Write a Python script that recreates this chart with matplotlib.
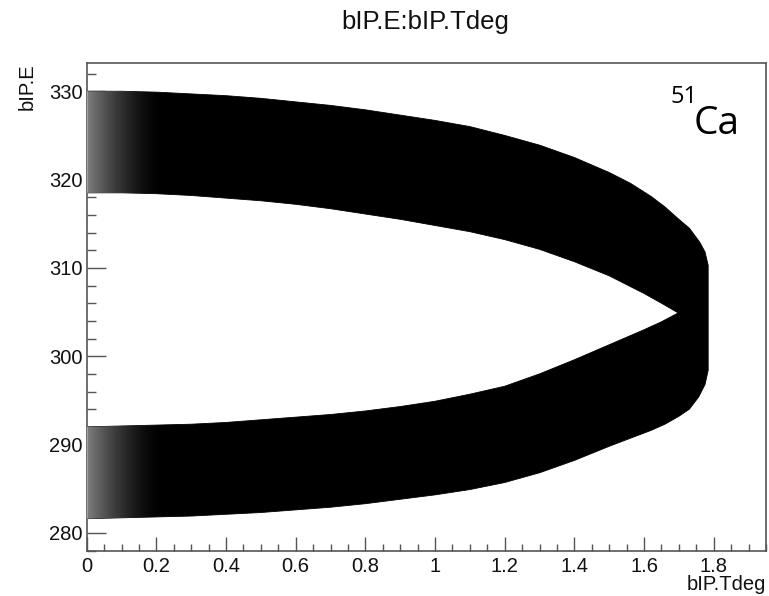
import numpy as np
import matplotlib
matplotlib.use("Agg")
import matplotlib.pyplot as plt
from matplotlib.patches import Polygon
from matplotlib.ticker import MultipleLocator, FuncFormatter

# edges of the black band (x = bIP.Tdeg, y = bIP.E)
upper_outer_x = [0.0, 0.1, 0.2, 0.3, 0.4, 0.5, 0.6, 0.7, 0.8, 0.9, 1.0, 1.1, 1.2,
                 1.3, 1.4, 1.5, 1.56, 1.62, 1.66, 1.70, 1.73, 1.76, 1.775, 1.784]
upper_outer_y = [330.0, 330.0, 329.9, 329.7, 329.5, 329.2, 328.8, 328.4, 327.9, 327.3,
                 326.7, 326.0, 325.0, 323.9, 322.5, 320.8, 319.6, 318.1, 316.9, 315.5,
                 314.5, 312.9, 311.8, 310.3]

lower_outer_x = [0.0, 0.1, 0.2, 0.3, 0.4, 0.5, 0.6, 0.7, 0.8, 0.9, 1.0, 1.1, 1.2,
                 1.3, 1.4, 1.5, 1.56, 1.62, 1.66, 1.70, 1.73, 1.757, 1.775, 1.784]
lower_outer_y = [281.6, 281.7, 281.8, 281.9, 282.1, 282.3, 282.6, 282.9, 283.3, 283.8,
                 284.3, 284.9, 285.7, 286.8, 288.2, 289.8, 290.7, 291.6, 292.3, 293.2,
                 294.0, 295.4, 296.8, 298.4]

lower_inner_x = [0.0, 0.1, 0.2, 0.3, 0.4, 0.5, 0.6, 0.7, 0.8, 0.9, 1.0, 1.1, 1.2,
                 1.3, 1.4, 1.5, 1.6, 1.65, 1.698]
lower_inner_y = [292.0, 292.1, 292.2, 292.3, 292.5, 292.8, 293.1, 293.4, 293.8, 294.3,
                 294.9, 295.7, 296.6, 298.0, 299.6, 301.3, 303.0, 303.9, 304.9]

upper_inner_x = [0.0, 0.1, 0.2, 0.3, 0.4, 0.5, 0.6, 0.7, 0.8, 0.9, 1.0, 1.1, 1.2,
                 1.3, 1.4, 1.5, 1.6, 1.65, 1.698]
upper_inner_y = [318.5, 318.5, 318.4, 318.2, 317.9, 317.6, 317.2, 316.7, 316.1, 315.5,
                 314.8, 314.1, 313.2, 312.1, 310.7, 309.1, 307.1, 306.0, 304.9]

x_ticks = [0, 0.2, 0.4, 0.6, 0.8, 1, 1.2, 1.4, 1.6, 1.8]
y_ticks = [280, 290, 300, 310, 320, 330]

W, H = 769, 596
fig = plt.figure(figsize=(W / 100, H / 100), dpi=100)
ax = fig.add_axes([86.7 / W, 1 - 550.5 / H, (766 - 86.7) / W, (550.5 - 63) / H])

# horseshoe outline: upper outer ->, lower outer <-, lower inner ->, upper inner <-
xs = upper_outer_x + lower_outer_x[::-1] + lower_inner_x + upper_inner_x[::-1]
ys = upper_outer_y + lower_outer_y[::-1] + lower_inner_y + upper_inner_y[::-1]
band = Polygon(np.column_stack([xs, ys]), closed=True, facecolor="black",
               edgecolor="black", lw=0.6, zorder=2)
ax.add_patch(band)

# thinner point density near zero angle -> lighten the left end of the band
gx = np.linspace(0, 1, 300)
fade = np.ones((1, 300, 4))
fade[..., 3] = 0.5 * np.clip(1 - gx, 0, 1) ** 1.6
im = ax.imshow(fade, extent=[0, 0.22, 278, 333.2], aspect="auto",
               interpolation="bilinear", zorder=3)
im.set_clip_path(band)

ax.set_xlim(0, 1.95)
ax.set_ylim(278.0, 333.2)
ax.set_xticks(x_ticks)
ax.set_yticks(y_ticks)
ax.xaxis.set_minor_locator(MultipleLocator(0.05))
ax.yaxis.set_minor_locator(MultipleLocator(2))
ax.xaxis.set_major_formatter(FuncFormatter(lambda v, p: f"{v:g}"))

frame = "#555555"
for s in ax.spines.values():
    s.set_color(frame)
    s.set_linewidth(1.2)
ax.tick_params(axis="both", which="both", direction="in", colors=frame,
               labelcolor="#111111", labelsize=14.5, width=1.0,
               top=False, right=False)
ax.tick_params(axis="x", which="major", length=10, pad=5)
ax.tick_params(axis="x", which="minor", length=5)
ax.tick_params(axis="y", which="major", length=14, pad=3)
ax.tick_params(axis="y", which="minor", length=6.5)
for lab in ax.get_xticklabels() + ax.get_yticklabels():
    lab.set_family("Liberation Sans")

fig.text(0.5535, 1 - 22 / H, "bIP.E:bIP.Tdeg", ha="center", va="center",
         fontsize=18.5, family="Liberation Sans", color="#111111")
fig.text(766 / W, 1 - 584 / H, "bIP.Tdeg", ha="right", va="center",
         fontsize=14.5, family="Liberation Sans", color="#111111")
fig.text(27 / W, 1 - 63 / H, "bIP.E", ha="center", va="top", rotation=90,
         fontsize=14.5, family="Liberation Sans", color="#111111")

# isotope tag
fig.text(670 / W, 1 - 103 / H, "51", ha="left", va="baseline",
         fontsize=17, family="Open Sans", color="black")
fig.text(694 / W, 1 - 134 / H, "Ca", ha="left", va="baseline",
         fontsize=28, family="Open Sans", color="black")

fig.savefig("out.png", dpi=100)
